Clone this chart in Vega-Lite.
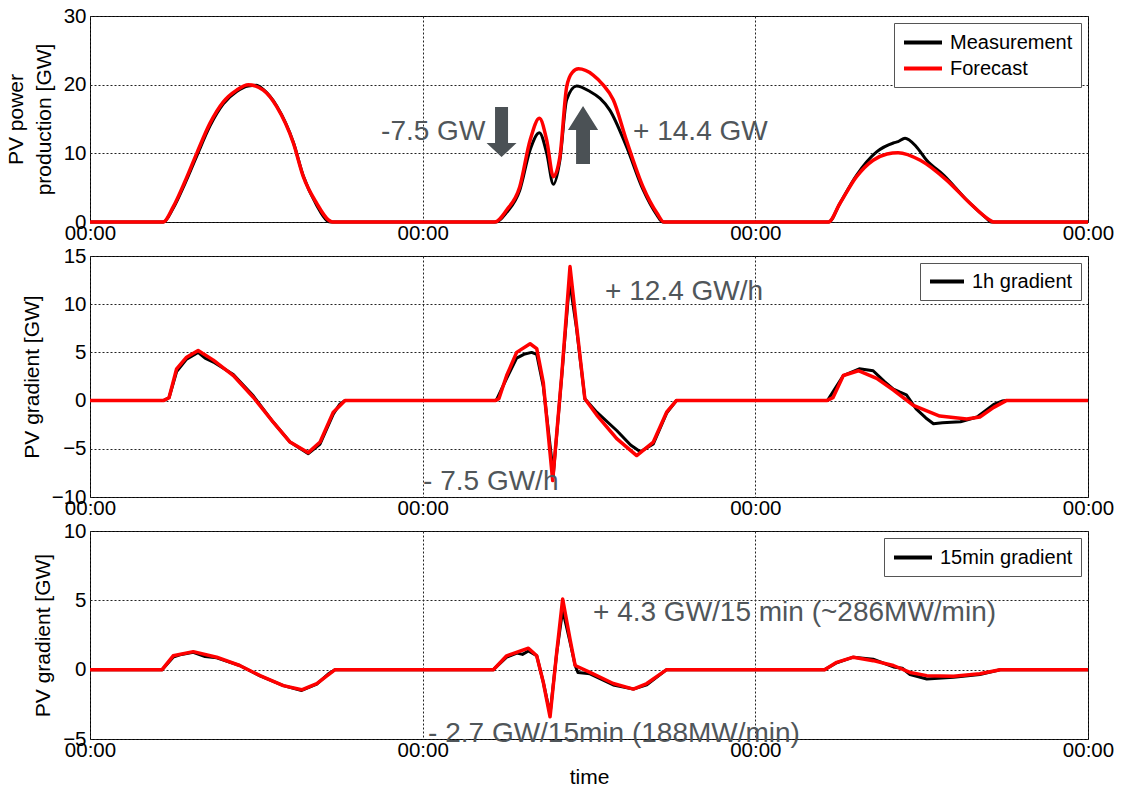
{
  "$schema": "https://vega.github.io/schema/vega-lite/v6.json",
  "padding": {"left": 4, "top": 5, "right": 5, "bottom": 5},
  "background": "white",
  "config": {
    "font": "Liberation Sans",
    "view": {"stroke": "black", "strokeWidth": 1},
    "axis": {
      "labelFont": "Liberation Sans", "labelFontSize": 20.5, "labelColor": "black",
      "titleFont": "Liberation Sans", "titleFontSize": 21, "titleFontWeight": "normal", "titleColor": "black",
      "grid": true, "gridColor": "#222", "gridDash": [2, 2], "gridWidth": 1, "gridOpacity": 1,
      "domain": false, "ticks": false, "labelOverlap": false, "labelBound": false
    },
    "axisX": {"labelFlush": false, "labelPadding": 1, "titlePadding": 6},
    "axisY": {"labelPadding": 4, "titlePadding": 9, "titleLineHeight": 28},
    "legend": {
      "strokeColor": "#555", "fillColor": "white", "padding": 8,
      "labelFont": "Liberation Sans", "labelFontSize": 20, "labelColor": "black",
      "rowPadding": 4, "orient": "top-right", "offset": 7, "cornerRadius": 0
    }
  },
  "datasets": {
    "p1": [
      {"s":"m","t":0,"v":0},{"s":"m","t":5.3,"v":0},{"s":"m","t":6.0,"v":2.0},{"s":"m","t":6.85,"v":5.6},{"s":"m","t":7.7,"v":9.6},{"s":"m","t":8.66,"v":14.0},{"s":"m","t":9.62,"v":17.2},{"s":"m","t":10.58,"v":19.0},{"s":"m","t":11.42,"v":19.8},{"s":"m","t":12.0,"v":19.9},{"s":"m","t":12.5,"v":19.3},{"s":"m","t":13.47,"v":16.9},{"s":"m","t":14.67,"v":11.6},{"s":"m","t":15.39,"v":6.7},{"s":"m","t":16.36,"v":2.4},{"s":"m","t":17.1,"v":0.2},{"s":"m","t":17.4,"v":0},
      {"s":"m","t":29.3,"v":0},{"s":"m","t":30.06,"v":1.4},{"s":"m","t":31.0,"v":4.6},{"s":"m","t":31.75,"v":10.5},{"s":"m","t":32.42,"v":13.0},{"s":"m","t":32.95,"v":10.0},{"s":"m","t":33.43,"v":5.5},{"s":"m","t":33.9,"v":9.0},{"s":"m","t":34.39,"v":17.8},{"s":"m","t":35.1,"v":19.8},{"s":"m","t":36.07,"v":19.0},{"s":"m","t":36.8,"v":18.0},{"s":"m","t":37.5,"v":16.3},{"s":"m","t":38.7,"v":11.0},{"s":"m","t":39.9,"v":4.7},{"s":"m","t":40.9,"v":1.0},{"s":"m","t":41.3,"v":0},
      {"s":"m","t":53.3,"v":0},{"s":"m","t":54.1,"v":2.7},{"s":"m","t":55.3,"v":6.8},{"s":"m","t":56.75,"v":10.2},{"s":"m","t":57.96,"v":11.5},{"s":"m","t":58.3,"v":11.7},{"s":"m","t":58.8,"v":12.2},{"s":"m","t":59.6,"v":11.0},{"s":"m","t":60.36,"v":9.0},{"s":"m","t":61.6,"v":6.8},{"s":"m","t":63.25,"v":3.2},{"s":"m","t":64.7,"v":0.5},{"s":"m","t":65.0,"v":0},{"s":"m","t":72,"v":0},
      {"s":"f","t":0,"v":0},{"s":"f","t":5.27,"v":0},{"s":"f","t":6.0,"v":2.2},{"s":"f","t":6.85,"v":5.9},{"s":"f","t":7.7,"v":10.0},{"s":"f","t":8.66,"v":14.4},{"s":"f","t":9.62,"v":17.5},{"s":"f","t":10.58,"v":19.2},{"s":"f","t":11.42,"v":20.0},{"s":"f","t":12.5,"v":19.2},{"s":"f","t":13.47,"v":16.8},{"s":"f","t":14.67,"v":11.5},{"s":"f","t":15.39,"v":6.6},{"s":"f","t":16.36,"v":2.7},{"s":"f","t":17.2,"v":0.3},{"s":"f","t":17.5,"v":0},
      {"s":"f","t":29.2,"v":0},{"s":"f","t":30.06,"v":1.75},{"s":"f","t":31.0,"v":5.1},{"s":"f","t":31.75,"v":11.9},{"s":"f","t":32.42,"v":15.1},{"s":"f","t":32.95,"v":11.9},{"s":"f","t":33.43,"v":6.6},{"s":"f","t":33.9,"v":9.5},{"s":"f","t":34.39,"v":19.7},{"s":"f","t":34.8,"v":21.8},{"s":"f","t":35.24,"v":22.3},{"s":"f","t":36.3,"v":21.4},{"s":"f","t":37.0,"v":20.0},{"s":"f","t":37.75,"v":17.8},{"s":"f","t":38.7,"v":11.9},{"s":"f","t":39.9,"v":5.1},{"s":"f","t":40.9,"v":1.3},{"s":"f","t":41.4,"v":0},
      {"s":"f","t":53.27,"v":0},{"s":"f","t":54.1,"v":2.7},{"s":"f","t":55.3,"v":6.6},{"s":"f","t":56.5,"v":9.0},{"s":"f","t":57.5,"v":9.9},{"s":"f","t":58.3,"v":10.1},{"s":"f","t":59.9,"v":9.0},{"s":"f","t":61.8,"v":6.1},{"s":"f","t":63.5,"v":2.7},{"s":"f","t":64.9,"v":0.3},{"s":"f","t":65.2,"v":0},{"s":"f","t":72,"v":0}
    ],
    "p2": [
      {"s":"m","t":0,"v":0},{"s":"m","t":5.3,"v":0},{"s":"m","t":5.7,"v":0.3},{"s":"m","t":6.25,"v":3.0},{"s":"m","t":6.97,"v":4.3},{"s":"m","t":7.8,"v":5.0},{"s":"m","t":8.3,"v":4.4},{"s":"m","t":8.9,"v":4.0},{"s":"m","t":10.34,"v":2.7},{"s":"m","t":11.78,"v":0.5},{"s":"m","t":13.2,"v":-2.2},{"s":"m","t":14.43,"v":-4.3},{"s":"m","t":15.75,"v":-5.5},{"s":"m","t":16.6,"v":-4.5},{"s":"m","t":17.55,"v":-1.4},{"s":"m","t":18.0,"v":-0.4},{"s":"m","t":18.4,"v":0},
      {"s":"m","t":29.3,"v":0},{"s":"m","t":30.06,"v":2.3},{"s":"m","t":30.78,"v":4.4},{"s":"m","t":31.3,"v":4.8},{"s":"m","t":31.86,"v":5.0},{"s":"m","t":32.23,"v":4.8},{"s":"m","t":32.7,"v":1.5},{"s":"m","t":33.43,"v":-7.6},{"s":"m","t":34.03,"v":2.5},{"s":"m","t":34.6,"v":12.4},{"s":"m","t":35.1,"v":7.5},{"s":"m","t":35.7,"v":0.2},{"s":"m","t":36.56,"v":-1.2},{"s":"m","t":38.0,"v":-3.1},{"s":"m","t":39.0,"v":-4.6},{"s":"m","t":39.7,"v":-5.3},{"s":"m","t":40.64,"v":-4.5},{"s":"m","t":41.6,"v":-1.3},{"s":"m","t":42.3,"v":0},
      {"s":"m","t":53.2,"v":0},{"s":"m","t":54.35,"v":2.6},{"s":"m","t":55.5,"v":3.3},{"s":"m","t":56.5,"v":3.1},{"s":"m","t":57.3,"v":2.0},{"s":"m","t":57.96,"v":1.2},{"s":"m","t":58.4,"v":0.9},{"s":"m","t":58.9,"v":0.6},{"s":"m","t":59.6,"v":-0.85},{"s":"m","t":60.3,"v":-1.8},{"s":"m","t":60.85,"v":-2.4},{"s":"m","t":61.5,"v":-2.3},{"s":"m","t":62.8,"v":-2.2},{"s":"m","t":64.0,"v":-1.7},{"s":"m","t":65.2,"v":-0.4},{"s":"m","t":65.8,"v":-0.05},{"s":"m","t":66.1,"v":0},{"s":"m","t":72,"v":0},
      {"s":"f","t":0,"v":0},{"s":"f","t":5.29,"v":0},{"s":"f","t":5.7,"v":0.3},{"s":"f","t":6.25,"v":3.3},{"s":"f","t":6.97,"v":4.5},{"s":"f","t":7.8,"v":5.2},{"s":"f","t":8.9,"v":4.2},{"s":"f","t":10.34,"v":2.6},{"s":"f","t":11.78,"v":0.35},{"s":"f","t":13.2,"v":-2.2},{"s":"f","t":14.43,"v":-4.3},{"s":"f","t":15.75,"v":-5.4},{"s":"f","t":16.6,"v":-4.3},{"s":"f","t":17.55,"v":-1.2},{"s":"f","t":18.4,"v":0},
      {"s":"f","t":29.22,"v":0},{"s":"f","t":29.5,"v":0.2},{"s":"f","t":30.06,"v":2.6},{"s":"f","t":30.78,"v":5.0},{"s":"f","t":31.75,"v":5.9},{"s":"f","t":32.23,"v":5.4},{"s":"f","t":32.7,"v":1.9},{"s":"f","t":33.38,"v":-8.3},{"s":"f","t":34.03,"v":2.6},{"s":"f","t":34.63,"v":13.9},{"s":"f","t":35.1,"v":7.8},{"s":"f","t":35.7,"v":0.2},{"s":"f","t":36.56,"v":-1.5},{"s":"f","t":38.0,"v":-3.95},{"s":"f","t":39.44,"v":-5.7},{"s":"f","t":40.64,"v":-4.3},{"s":"f","t":41.6,"v":-1.2},{"s":"f","t":42.3,"v":0},
      {"s":"f","t":53.15,"v":0},{"s":"f","t":53.6,"v":0.3},{"s":"f","t":54.35,"v":2.6},{"s":"f","t":55.43,"v":3.1},{"s":"f","t":56.75,"v":2.3},{"s":"f","t":57.96,"v":1.1},{"s":"f","t":59.4,"v":-0.5},{"s":"f","t":61.3,"v":-1.6},{"s":"f","t":63.25,"v":-1.9},{"s":"f","t":64.2,"v":-1.7},{"s":"f","t":65.2,"v":-0.7},{"s":"f","t":66.1,"v":0},{"s":"f","t":72,"v":0}
    ],
    "p3": [
      {"s":"m","t":0,"v":0},{"s":"m","t":5.2,"v":0},{"s":"m","t":6.0,"v":0.9},{"s":"m","t":6.6,"v":1.1},{"s":"m","t":7.45,"v":1.25},{"s":"m","t":8.3,"v":0.95},{"s":"m","t":9.14,"v":0.85},{"s":"m","t":10.8,"v":0.3},{"s":"m","t":12.27,"v":-0.45},{"s":"m","t":13.95,"v":-1.15},{"s":"m","t":15.27,"v":-1.5},{"s":"m","t":16.36,"v":-1.05},{"s":"m","t":17.2,"v":-0.3},{"s":"m","t":17.68,"v":0},
      {"s":"m","t":29.1,"v":0},{"s":"m","t":30.06,"v":0.9},{"s":"m","t":30.8,"v":1.2},{"s":"m","t":31.2,"v":1.1},{"s":"m","t":31.63,"v":1.35},{"s":"m","t":32.23,"v":1.0},{"s":"m","t":32.7,"v":-0.9},{"s":"m","t":33.19,"v":-3.2},{"s":"m","t":33.67,"v":1.2},{"s":"m","t":34.1,"v":4.3},{"s":"m","t":34.63,"v":2.0},{"s":"m","t":35.0,"v":0.3},{"s":"m","t":35.2,"v":-0.2},{"s":"m","t":36.07,"v":-0.3},{"s":"m","t":37.75,"v":-1.1},{"s":"m","t":39.2,"v":-1.4},{"s":"m","t":40.17,"v":-1.1},{"s":"m","t":41.6,"v":0},
      {"s":"m","t":53.0,"v":0},{"s":"m","t":53.87,"v":0.5},{"s":"m","t":55.07,"v":0.9},{"s":"m","t":56.5,"v":0.75},{"s":"m","t":57.96,"v":0.2},{"s":"m","t":58.6,"v":0.1},{"s":"m","t":59.16,"v":-0.35},{"s":"m","t":60.37,"v":-0.67},{"s":"m","t":62.3,"v":-0.55},{"s":"m","t":64.2,"v":-0.35},{"s":"m","t":65.66,"v":0},{"s":"m","t":72,"v":0},
      {"s":"f","t":0,"v":0},{"s":"f","t":5.2,"v":0},{"s":"f","t":6.0,"v":1.0},{"s":"f","t":7.45,"v":1.3},{"s":"f","t":9.14,"v":0.9},{"s":"f","t":10.8,"v":0.3},{"s":"f","t":12.27,"v":-0.43},{"s":"f","t":13.95,"v":-1.15},{"s":"f","t":15.27,"v":-1.45},{"s":"f","t":16.36,"v":-1.0},{"s":"f","t":17.68,"v":0},
      {"s":"f","t":29.1,"v":0},{"s":"f","t":30.06,"v":1.0},{"s":"f","t":31.63,"v":1.55},{"s":"f","t":32.23,"v":1.0},{"s":"f","t":32.7,"v":-0.9},{"s":"f","t":33.19,"v":-3.4},{"s":"f","t":33.67,"v":1.25},{"s":"f","t":34.1,"v":5.1},{"s":"f","t":34.63,"v":2.2},{"s":"f","t":35.0,"v":0.3},{"s":"f","t":36.07,"v":-0.2},{"s":"f","t":37.75,"v":-1.0},{"s":"f","t":39.2,"v":-1.4},{"s":"f","t":40.17,"v":-1.0},{"s":"f","t":41.6,"v":0},
      {"s":"f","t":53.0,"v":0},{"s":"f","t":53.87,"v":0.53},{"s":"f","t":55.07,"v":0.9},{"s":"f","t":56.5,"v":0.65},{"s":"f","t":57.96,"v":0.3},{"s":"f","t":59.16,"v":-0.2},{"s":"f","t":60.37,"v":-0.43},{"s":"f","t":62.3,"v":-0.48},{"s":"f","t":64.2,"v":-0.3},{"s":"f","t":65.66,"v":0},{"s":"f","t":72,"v":0}
    ],
    "txt": [
      {"p":1,"t":21.0,"v":11.94,"label":"-7.5 GW"},
      {"p":1,"t":39.18,"v":11.94,"label":"+ 14.4 GW"},
      {"p":2,"t":37.16,"v":10.44,"label":"+ 12.4 GW/h"},
      {"p":2,"t":24.03,"v":-9.27,"label":"- 7.5 GW/h"},
      {"p":3,"t":36.29,"v":3.51,"label":"+ 4.3 GW/15 min (~286MW/min)"},
      {"p":3,"t":24.39,"v":-5.21,"label":"- 2.7 GW/15min (188MW/min)"}
    ],
    "arr": [
      {"kind":"down","t":29.69,"v":13.1},
      {"kind":"up","t":35.57,"v":12.67}
    ]
  },
  "bounds": "flush",
  "spacing": 34,
  "resolve": {"scale": {"color": "independent"}},
  "vconcat": [
    {
      "width": 998, "height": 206,
      "layer": [
        {
          "data": {"name": "p1"},
          "transform": [{"filter": "datum.s == 'm'"}],
          "mark": {"type": "line", "strokeWidth": 3, "strokeJoin": "round", "interpolate": "monotone"},
          "encoding": {
            "x": {"field": "t", "type": "quantitative", "scale": {"domain": [0, 72], "nice": false}, "axis": {"title": null, "values": [0, 24, 48, 72], "labelExpr": "'00:00'"}},
            "y": {"field": "v", "type": "quantitative", "scale": {"domain": [0, 30], "nice": false}, "axis": {"title": ["PV power", "production [GW]"], "values": [0, 10, 20, 30]}},
            "color": {"datum": "Measurement", "type": "nominal", "scale": {"domain": ["Measurement", "Forecast"], "range": ["black", "red"]},
              "legend": {"title": null, "symbolType": "M-1,0L3,0", "symbolSize": 361, "symbolStrokeWidth": 4, "labelOffset": 25}}
          }
        },
        {
          "data": {"name": "p1"},
          "transform": [{"filter": "datum.s == 'f'"}],
          "mark": {"type": "line", "strokeWidth": 3.5, "strokeJoin": "round", "interpolate": "monotone"},
          "encoding": {
            "x": {"field": "t", "type": "quantitative"},
            "y": {"field": "v", "type": "quantitative"},
            "color": {"datum": "Forecast", "type": "nominal"}
          }
        },
        {
          "data": {"name": "txt"},
          "transform": [{"filter": "datum.p == 1"}],
          "mark": {"type": "text", "align": "left", "baseline": "alphabetic", "fontSize": 28, "color": "#50565a"},
          "encoding": {
            "x": {"field": "t", "type": "quantitative"},
            "y": {"field": "v", "type": "quantitative"},
            "text": {"field": "label"}
          }
        },
        {
          "data": {"name": "arr"},
          "transform": [{"filter": "datum.kind == 'down'"}],
          "mark": {"type": "point", "filled": true, "opacity": 1, "color": "#4b5155", "size": 2500, "shape": "M-0.26,-1L0.26,-1L0.26,0.44L0.6,0.44L0,1L-0.6,0.44L-0.26,0.44Z"},
          "encoding": {
            "x": {"field": "t", "type": "quantitative"},
            "y": {"field": "v", "type": "quantitative"}
          }
        },
        {
          "data": {"name": "arr"},
          "transform": [{"filter": "datum.kind == 'up'"}],
          "mark": {"type": "point", "filled": true, "opacity": 1, "color": "#4b5155", "size": 3364, "shape": "M0,-1L0.52,-0.17L0.24,-0.17L0.24,1L-0.24,1L-0.24,-0.17L-0.52,-0.17Z"},
          "encoding": {
            "x": {"field": "t", "type": "quantitative"},
            "y": {"field": "v", "type": "quantitative"}
          }
        }
      ]
    },
    {
      "width": 998, "height": 241,
      "layer": [
        {
          "data": {"name": "p2"},
          "transform": [{"filter": "datum.s == 'm'"}],
          "mark": {"type": "line", "strokeWidth": 3, "strokeJoin": "round"},
          "encoding": {
            "x": {"field": "t", "type": "quantitative", "scale": {"domain": [0, 72], "nice": false}, "axis": {"title": null, "values": [0, 24, 48, 72], "labelExpr": "'00:00'"}},
            "y": {"field": "v", "type": "quantitative", "scale": {"domain": [-10, 15], "nice": false}, "axis": {"title": "PV gradient [GW]", "values": [-10, -5, 0, 5, 10, 15]}},
            "color": {"datum": "1h gradient", "type": "nominal", "scale": {"domain": ["1h gradient"], "range": ["black"]},
              "legend": {"title": null, "symbolType": "M-1,0L3,0", "symbolSize": 289, "symbolStrokeWidth": 4, "labelOffset": 23}}
          }
        },
        {
          "data": {"name": "p2"},
          "transform": [{"filter": "datum.s == 'f'"}],
          "mark": {"type": "line", "strokeWidth": 3.5, "strokeJoin": "round", "color": "red"},
          "encoding": {
            "x": {"field": "t", "type": "quantitative"},
            "y": {"field": "v", "type": "quantitative"}
          }
        },
        {
          "data": {"name": "txt"},
          "transform": [{"filter": "datum.p == 2"}],
          "mark": {"type": "text", "align": "left", "baseline": "alphabetic", "fontSize": 28, "color": "#50565a"},
          "encoding": {
            "x": {"field": "t", "type": "quantitative"},
            "y": {"field": "v", "type": "quantitative"},
            "text": {"field": "label"}
          }
        }
      ]
    },
    {
      "width": 998, "height": 208,
      "layer": [
        {
          "data": {"name": "p3"},
          "transform": [{"filter": "datum.s == 'm'"}],
          "mark": {"type": "line", "strokeWidth": 3, "strokeJoin": "round"},
          "encoding": {
            "x": {"field": "t", "type": "quantitative", "scale": {"domain": [0, 72], "nice": false}, "axis": {"title": "time", "values": [0, 24, 48, 72], "labelExpr": "'00:00'"}},
            "y": {"field": "v", "type": "quantitative", "scale": {"domain": [-5, 10], "nice": false}, "axis": {"title": "PV gradient [GW]", "values": [-5, 0, 5, 10]}},
            "color": {"datum": "15min gradient", "type": "nominal", "scale": {"domain": ["15min gradient"], "range": ["black"]},
              "legend": {"title": null, "symbolType": "M-1,0L3,0", "symbolSize": 361, "symbolStrokeWidth": 4, "labelOffset": 25}}
          }
        },
        {
          "data": {"name": "p3"},
          "transform": [{"filter": "datum.s == 'f'"}],
          "mark": {"type": "line", "strokeWidth": 3.5, "strokeJoin": "round", "color": "red"},
          "encoding": {
            "x": {"field": "t", "type": "quantitative"},
            "y": {"field": "v", "type": "quantitative"}
          }
        },
        {
          "data": {"name": "txt"},
          "transform": [{"filter": "datum.p == 3"}],
          "mark": {"type": "text", "align": "left", "baseline": "alphabetic", "fontSize": 28, "color": "#50565a"},
          "encoding": {
            "x": {"field": "t", "type": "quantitative"},
            "y": {"field": "v", "type": "quantitative"},
            "text": {"field": "label"}
          }
        }
      ]
    }
  ]
}
